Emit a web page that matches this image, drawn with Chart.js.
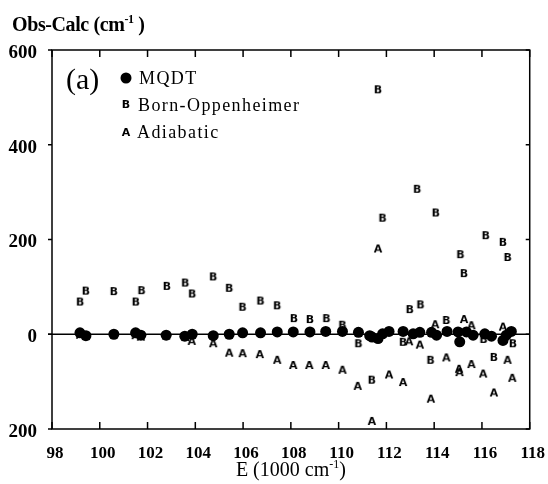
<!DOCTYPE html>
<html>
<head>
<meta charset="utf-8">
<script src="https://cdn.jsdelivr.net/npm/chart.js@4/dist/chart.umd.min.js"></script>
<style>
  html, body { margin: 0; padding: 0; background: #fff; }
  #wrap { width: 548px; height: 484px; }
</style>
</head>
<body>
<div id="wrap"><canvas id="chart" width="548" height="484"></canvas></div>
<script>
// energies (1000 cm-1) and Obs-Calc (cm-1)
const mqdtE = [99.17, 99.42, 100.59, 101.50, 101.72, 102.78, 103.56, 103.87, 104.75, 105.42,
  105.98, 106.73, 107.43, 108.10, 108.80, 109.46, 110.16, 110.83, 111.30, 111.40,
  111.65, 111.84, 112.11, 112.70, 113.12, 113.40, 113.89, 114.10, 114.54, 115.00,
  115.07, 115.35, 115.63, 116.12, 116.40, 116.88, 117.02, 117.23]
const mqdtV = [3, -3, 0, 3, -2, -2, -4, 0, -3, 0,
  3, 3, 5, 5, 5, 6, 6, 4, -3, -6,
  -9, 1, 6, 6, 1, 4, 4, -2, 6, 5,
  -16, 5, -2, 1, -4, -13, -2, 6]

const bornE = [99.18, 99.42, 100.59, 101.51, 101.75, 102.81, 103.58, 103.87, 104.75, 105.42,
  105.98, 106.73, 107.43, 108.13, 108.80, 109.49, 110.16, 110.83, 111.39, 111.65,
  111.84, 112.70, 112.98, 113.29, 113.43, 113.85, 114.07, 114.51, 115.10, 115.25,
  116.07, 116.16, 116.50, 116.88, 117.08, 117.30]
const bornV = [67, 90, 89, 67, 91, 100, 107, 84, 120, 96,
  56, 69, 59, 32, 30, 32, 18, -21, -98, 515,
  244, -18, 51, 305, 61, -56, 255, 28, 167, 127,
  -12, 207, -50, 193, 161, -21]

const adiaE = [99.17, 99.42, 101.50, 101.72, 102.78, 103.58, 103.85, 104.75, 105.42, 105.98,
  106.70, 107.43, 108.10, 108.77, 109.46, 110.16, 110.80, 111.39, 111.65, 112.11,
  112.70, 112.95, 113.40, 113.86, 114.04, 114.51, 115.04, 115.06, 115.25, 115.56,
  115.56, 116.05, 116.50, 116.88, 117.07, 117.27]
const adiaV = [-3, -6, -4, -7, -5, -8, -16, -21, -41, -42,
  -44, -56, -67, -67, -67, -77, -111, -185, 179, -87,
  -103, -17, -24, -138, 19, -51, -75, -82, 30, 17,
  -65, -85, -125, 14, -56, -94]

const xTicks = [98, 100, 102, 104, 106, 108, 110, 112, 114, 116, 118]
const yTicks = [-200, 0, 200, 400, 600]
const seriesNames = ['MQDT', 'Born-Oppenheimer', 'Adiabatic']

const serif = '"Liberation Serif", "Times New Roman", serif'

function toPoints(xs, ys) {
  return xs.map((x, i) => ({x: x, y: ys[i]}))
}

// small letter markers like the original plot symbols
function letterMark(ch) {
  const c = document.createElement('canvas')
  c.width = 12
  c.height = 12
  const g = c.getContext('2d')
  g.fillStyle = '#000'
  g.font = 'bold 11px "DejaVu Sans", sans-serif'
  g.textAlign = 'center'
  g.textBaseline = 'middle'
  g.fillText(ch, 6, 6.5)
  return c
}
const markB = letterMark('B')
const markA = letterMark('A')

// text with a raised "-1"
function drawSupText(ctx, parts, x, y, align) {
  let total = 0
  parts.forEach(p => { ctx.font = p.font; total += ctx.measureText(p.t).width })
  let cx = align === 'center' ? x - total / 2 : x
  ctx.textAlign = 'left'
  ctx.textBaseline = 'alphabetic'
  parts.forEach(p => {
    ctx.font = p.font
    ctx.fillText(p.t, cx, y - (p.rise || 0))
    cx += ctx.measureText(p.t).width
  })
}

const framePlugin = {
  id: 'frame',
  beforeDatasetsDraw(chart) {
    const ctx = chart.ctx
    const a = chart.chartArea
    const y0 = chart.scales.y.getPixelForValue(0)
    ctx.save()
    ctx.strokeStyle = '#000'
    ctx.lineWidth = 1.5
    ctx.beginPath()
    ctx.moveTo(a.left - 4, y0)
    ctx.lineTo(a.right, y0)
    ctx.stroke()
    ctx.restore()
  },
  afterDraw(chart) {
    const ctx = chart.ctx
    const a = chart.chartArea
    const sx = chart.scales.x
    const sy = chart.scales.y
    ctx.save()
    ctx.strokeStyle = '#000'
    ctx.lineWidth = 1.5
    ctx.strokeRect(a.left, a.top, a.right - a.left, a.bottom - a.top)
    ctx.beginPath()
    xTicks.forEach(v => {
      const px = sx.getPixelForValue(v)
      ctx.moveTo(px, a.top)
      ctx.lineTo(px, a.top + 7)
      ctx.moveTo(px, a.bottom)
      ctx.lineTo(px, a.bottom - 7)
    })
    yTicks.forEach(v => {
      const py = sy.getPixelForValue(v)
      ctx.moveTo(a.left - 4, py)
      ctx.lineTo(a.left, py)
      ctx.moveTo(a.right, py)
      ctx.lineTo(a.right - 4, py)
    })
    ctx.stroke()

    ctx.fillStyle = '#000'
    // axis titles
    ctx.letterSpacing = '-0.4px'
    drawSupText(ctx, [
      {t: 'Obs-Calc (cm', font: 'bold 20px ' + serif},
      {t: '-1', font: 'bold 12px ' + serif, rise: 8},
      {t: ' )', font: 'bold 20px ' + serif}
    ], 12, 31, 'left')
    ctx.letterSpacing = '0px'
    drawSupText(ctx, [
      {t: 'E (1000 cm', font: '20px ' + serif},
      {t: '-1', font: '12px ' + serif, rise: 8},
      {t: ')', font: '20px ' + serif}
    ], (a.left + a.right) / 2, 476, 'center')

    // legend inside the plot
    ctx.font = '30px ' + serif
    ctx.textAlign = 'left'
    ctx.textBaseline = 'alphabetic'
    ctx.fillText('(a)', 66, 89)
    ctx.beginPath()
    ctx.arc(126, 78, 5.5, 0, Math.PI * 2)
    ctx.fill()
    ctx.drawImage(markB, 120, 99)
    ctx.drawImage(markA, 120, 127)
    ctx.font = '18px ' + serif
    ctx.letterSpacing = '1.4px'
    ctx.textBaseline = 'middle'
    ctx.fillText(seriesNames[0], 139, 79)
    ctx.fillText(seriesNames[1], 138, 106)
    ctx.fillText(seriesNames[2], 137, 133)
    ctx.letterSpacing = '0px'
    ctx.restore()
  }
}

const ctx = document.getElementById('chart').getContext('2d')
new Chart(ctx, {
  type: 'scatter',
  data: {
    datasets: [{
      label: seriesNames[0],
      data: toPoints(mqdtE, mqdtV),
      pointStyle: 'circle',
      pointRadius: 5.5,
      backgroundColor: '#000',
      borderColor: '#000',
      borderWidth: 0
    }, {
      label: seriesNames[1],
      data: toPoints(bornE, bornV),
      pointStyle: markB
    }, {
      label: seriesNames[2],
      data: toPoints(adiaE, adiaV),
      pointStyle: markA
    }]
  },
  options: {
    responsive: false,
    animation: false,
    layout: {padding: {top: 50, right: 18, left: 0, bottom: 0}},
    plugins: {legend: {display: false}, tooltip: {enabled: false}},
    scales: {
      x: {
        type: 'linear',
        min: 98,
        max: 118,
        afterBuildTicks: s => { s.ticks = xTicks.map(v => ({value: v})) },
        afterFit: s => { s.height = 55 },
        grid: {display: false},
        border: {display: false},
        ticks: {
          color: '#000',
          padding: 6,
          labelOffset: 3,
          maxRotation: 0,
          font: {family: serif, size: 17, weight: 'bold'}
        }
      },
      y: {
        type: 'linear',
        min: -200,
        max: 600,
        afterBuildTicks: s => { s.ticks = yTicks.map(v => ({value: v})) },
        afterFit: s => { s.width = 52 },
        grid: {display: false},
        border: {display: false},
        ticks: {
          color: '#000',
          padding: 7,
          labelOffset: 3,
          font: {family: serif, size: 19, weight: 'bold'},
          callback: v => String(Math.abs(v))
        }
      }
    }
  },
  plugins: [framePlugin]
})
</script>
</body>
</html>
